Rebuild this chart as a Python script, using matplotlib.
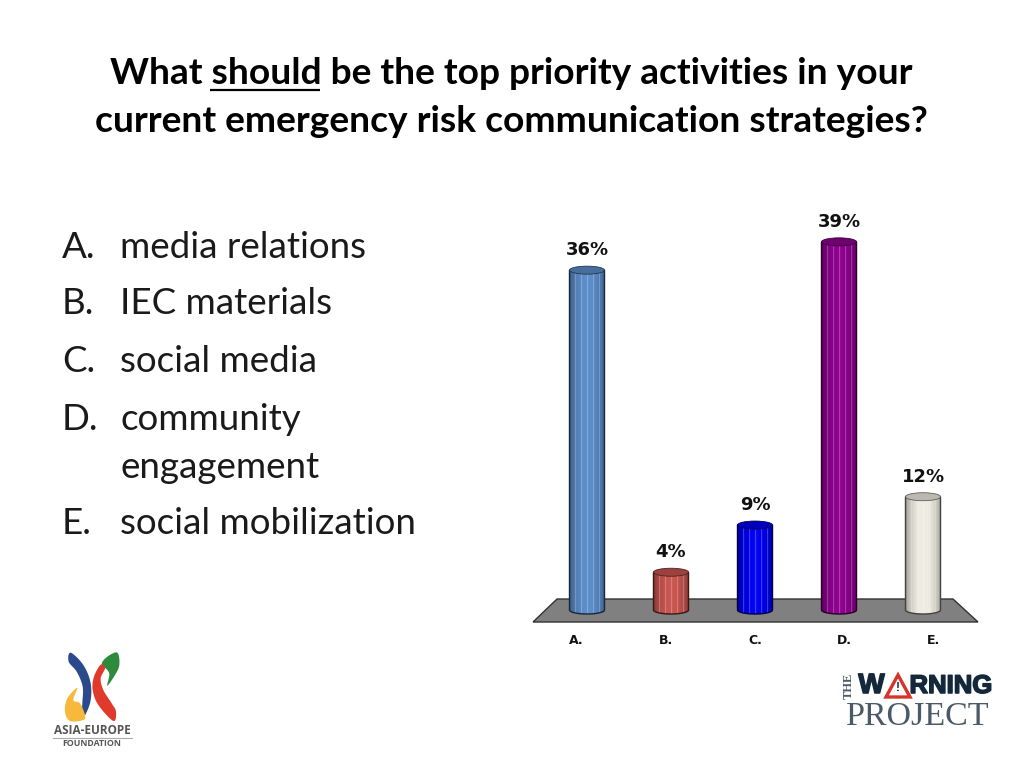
import numpy as np
import matplotlib
matplotlib.use("Agg")
import matplotlib.pyplot as plt
import matplotlib.patheffects as pe
from matplotlib.patches import Polygon, Ellipse

# ---- data ----
categories = ["A.", "B.", "C.", "D.", "E."]
values = [36, 4, 9, 39, 12]
value_labels = ["36%", "4%", "9%", "39%", "12%"]
colors = ["#5A8CC8", "#C8544F", "#0000F0", "#8E008E", "#EEECE1"]
title_lines = ["What should be the top priority activities in your",
               "current emergency risk communication strategies?"]
list_letters = ["A.", "B.", "C.", "D.", "E."]
list_lines = ["media relations", "IEC materials", "social media",
              "community", "engagement", "social mobilization"]

W, H = 1024, 768
FONT = "Lato"
fig = plt.figure(figsize=(W / 100, H / 100), dpi=100, facecolor="white")

# page overlay in pixel units (text + logos)
pg = fig.add_axes([0, 0, 1, 1], zorder=3)
pg.set_xlim(0, W); pg.set_ylim(H, 0); pg.axis("off"); pg.patch.set_alpha(0)

# chart axes: 84 px per category, 9.44 px per percent
L, R, T, B = 530, 990, 200, 660
ax = fig.add_axes([L / W, 1 - B / H, (R - L) / W, (B - T) / H], zorder=2)
ax.axis("off")
xlim = ((L - 587) / 84, (R - 587) / 84)
ylim = ((610 - B) / 9.44, (610 - T) / 9.44)
px = lambda dx: dx / 84
py = lambda dy: dy / 9.44

# floor
floor = [(-30 / 84, py(11)), (366 / 84, py(11)), (391 / 84, py(-12)), (-54 / 84, py(-12))]
ax.add_patch(Polygon(floor, closed=True, fc="#808080", ec="#333333", lw=1, zorder=1))

def shade(col, f):
    c = np.array(matplotlib.colors.to_rgb(col))
    return c * f if f <= 1 else c + (1 - c) * (f - 1)

hw = px(17.5)
eh = py(4)
for i, (v, c) in enumerate(zip(values, colors)):
    t = np.linspace(0, np.pi, 40)
    side = np.concatenate([np.c_[i - hw * np.cos(t), -eh * np.sin(t)],
                           np.c_[i + hw * np.cos(t), v + eh * 0 * t]])
    u = np.linspace(-1, 1, 140)
    prof = 0.66 + 0.36 * np.cos(u * np.pi / 2) ** 0.7
    stripes = (np.arange(140) % 24 >= 21)
    rgb = np.array([shade(c, p) for p in prof])
    rgb[stripes] = rgb[stripes] + (1 - rgb[stripes]) * 0.35
    im = ax.imshow(rgb[None, :, :], extent=(i - hw, i + hw, -eh, v), aspect="auto", zorder=3)
    patch = Polygon(side, closed=True, fc="none", ec=shade(c, 0.28), lw=1.0, zorder=4)
    ax.add_patch(patch)
    im.set_clip_path(patch)
    ax.add_patch(Ellipse((i, v), 2 * hw, 2 * eh, fc=shade(c, 0.78), ec=shade(c, 0.4), lw=0.6, zorder=5))
    ax.annotate(value_labels[i], (i, v), xytext=(0, 14.4), textcoords="offset points",
                ha="center", va="center", fontsize=13, fontweight="bold",
                family="DejaVu Sans", color="#111111", zorder=6)

# category labels fan out slightly from the bars, as on the slide
label_shift = [-11, -5, 0, 5, 10]
for i, cat in enumerate(categories):
    ax.annotate(cat, (i, 0), xytext=(label_shift[i] * 0.72, -21.6), textcoords="offset points",
                ha="center", va="center", fontsize=9, fontweight="bold",
                family="DejaVu Sans", color="#111111")
ax.set_xlim(*xlim); ax.set_ylim(*ylim)

# title
for line, y in zip(title_lines, [74, 122]):
    pg.text(511, y, line, ha="center", va="center", fontsize=26.7, fontweight="bold",
            family=FONT, color="#000000")
pg.plot([210, 320], [90, 90], color="black", lw=1.6, solid_capstyle="butt")

# list
for s, y in zip(list_letters, [247, 304, 362, 419, 524]):
    pg.text(62, y, s, ha="left", va="center", fontsize=26.5, family=FONT, color="#1a1a1a")
for s, y in zip(list_lines, [247, 304, 362, 419, 467, 524]):
    pg.text(120, y, s, ha="left", va="center", fontsize=26.5, family=FONT, color="#1a1a1a")

# logo: Asia-Europe Foundation (outline traced through crop-unit points)
def blob(pts, col):
    p = np.array(pts, float)
    n = len(p)
    out = []
    for k in range(n):
        p0, p1, p2, p3 = p[k - 1], p[k], p[(k + 1) % n], p[(k + 2) % n]
        for s in np.linspace(0, 1, 12, endpoint=False):
            out.append(0.5 * (2 * p1 + (p2 - p0) * s + (2 * p0 - 5 * p1 + 4 * p2 - p3) * s ** 2
                              + (3 * p1 - p0 - 3 * p2 + p3) * s ** 3))
    out = np.array(out) / 3 + (30, 640)
    pg.add_patch(Polygon(out, closed=True, fc=col, ec="none"))

blob([(122, 38), (160, 75), (182, 130), (180, 190), (155, 240), (157, 190), (158, 140), (140, 95), (116, 65)], "#2B4A8B")
blob([(262, 38), (268, 75), (255, 105), (232, 137), (238, 105), (232, 90), (215, 72), (232, 50)], "#2E8B3E")
blob([(212, 74), (192, 110), (188, 150), (205, 195), (250, 243), (258, 215), (245, 190), (220, 150), (212, 115), (225, 85)], "#E03A2C")
blob([(142, 143), (112, 175), (105, 215), (120, 243), (160, 240), (165, 225), (150, 190), (130, 180)], "#F7B83C")
pg.text(92, 731, "ASIA-EUROPE", ha="center", va="center", fontsize=8.5, fontweight="bold", family="Open Sans", color="#555555")
pg.plot([53, 132], [738, 738], color="#aaaaaa", lw=0.8)
pg.text(92, 743.5, "FOUNDATION", ha="center", va="center", fontsize=6.3, fontweight="bold", family="Open Sans", color="#555555")

# logo: The Warning Project
navy = "#14283C"
heavy = [pe.withStroke(linewidth=1.1, foreground=navy)]
pg.text(849, 686, "THE", rotation=90, ha="center", va="center", fontsize=9, family="Liberation Serif", fontweight="bold", color="#4A5A66")
pg.text(871.5, 686, "W", ha="center", va="center", fontsize=20, family="Liberation Sans", fontweight="bold", color=navy, path_effects=heavy)
pg.add_patch(Polygon([(898, 675), (886, 697), (910, 697)], closed=True, fc="white", ec="#D8322A", lw=2.4, joinstyle="miter"))
pg.text(898, 688, "!", ha="center", va="center", fontsize=8.5, family="Liberation Sans", fontweight="bold", color=navy)
pg.text(951, 686, "RNING", ha="center", va="center", fontsize=18.5, family="Liberation Sans", fontweight="bold", color=navy, path_effects=heavy)
pg.text(918, 717, "PROJECT", ha="center", va="center", fontsize=24.5, family="Liberation Serif", color="#4A5A66")

fig.savefig("out.png", dpi=100, facecolor="white")
